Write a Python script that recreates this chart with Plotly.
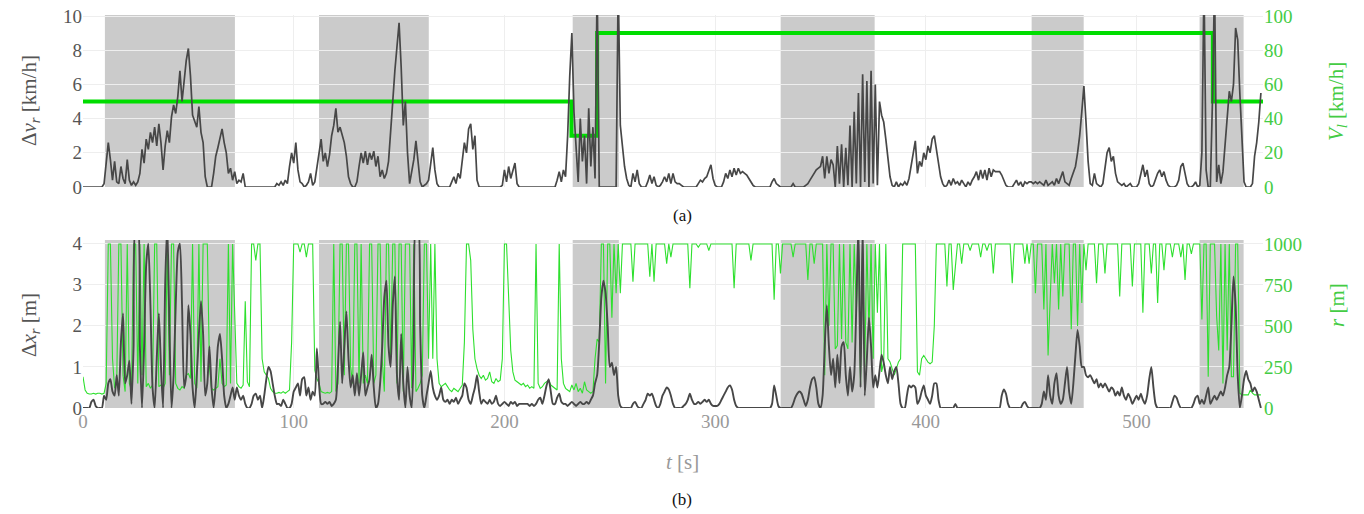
import numpy as np
import plotly.graph_objects as go

# ---------------- data ----------------
t_s = list(range(560))  # sample times [s]

dv_r = [  # Delta v_r [km/h], top panel
    0,0,0,0,0,0,0,0,0,0,
    0.2,1.5,2.6,1.6,0.4,1.5,0.3,0.2,1.2,0.5,
    0.2,1.6,0.4,0.1,0.3,0.1,0.3,0.8,2.2,1.4,
    2.8,2.2,3.2,2.6,3.5,2.4,3.7,2.6,1.0,2.4,
    3.3,2.6,4.1,4.8,4.3,5.3,6.8,5.0,6.2,7.4,
    8.1,6.5,4.2,3.8,3.5,4.7,3.2,2.6,0.6,0,
    0,0,0.8,1.8,2.3,2.9,3.4,2.6,2.0,0.8,
    1.1,0.4,0.9,0.2,0.4,0.3,0.8,0,0,0,
    0,0,0,0,0,0,0,0,0,0,
    0,0,0.2,0.1,0.3,0.1,0.4,0.2,1.2,2.0,
    1.4,2.6,1.0,0.3,0.2,0,0.1,0.3,0.8,0.1,
    0.3,1.2,2.0,2.8,1.5,2.0,1.2,1.9,3.0,3.6,
    4.6,3.2,3.5,3.0,2.6,1.8,0.6,0.2,0,0,
    0.3,1.2,2.0,1.4,2.1,1.3,2.0,1.6,2.1,1.2,
    1.8,0.6,1.0,0.5,0.8,1.5,3.0,5.0,6.8,8.4,
    9.6,7.0,3.6,5.0,2.0,0.2,0.8,1.6,2.7,1.4,
    0.3,0,0.1,0.2,0.4,1.5,2.3,1.0,0.2,0,
    0,0,0,0,0,0.3,0.6,0.2,0.8,0.5,
    1.6,2.6,2.0,3.4,3.7,2.2,3.0,0.4,0,0,
    0,0,0,0,0,0,0,0,0,0.1,
    1.0,0.3,1.2,0.5,0.9,1.4,0.2,0,0,0,
    0,0,0,0,0,0,0,0,0,0,
    0,0,0,0,0,0.4,0.9,0.3,1.0,0.6,
    3.0,6.5,9.0,4.4,2.0,0.3,4.0,1.5,3.0,0.2,
    4.6,1.2,3.5,0.5,12,0,0,0,0,0,
    0,0,0,0,12,3.6,2.4,1.2,0.5,0.1,
    0,0.8,0.3,1.0,0.2,0,0,0,0.3,0.7,
    0.2,0.6,0.1,0,0.1,0.3,0.6,0.3,0.8,0.2,
    0.8,0.3,0.2,0.2,0.1,0,0,0,0,0,
    0,0,0.2,0.4,0.3,0.5,0.6,0.9,1.3,0.5,
    0.1,0,0,0,0.3,0.8,0.5,1.0,0.6,1.1,
    0.7,1.1,0.8,0.9,0.8,0.7,0.5,0.3,0.1,0,
    0,0,0,0,0,0,0,0.3,0.5,0.2,
    0.1,0,0,0,0,0,0,0.2,0,0,
    0,0,0,0.1,0.2,0.4,0.6,0.8,1.0,1.1,
    1.2,1.8,0.5,1.8,0.8,1.6,1.3,0,2.4,0.2,
    2.5,0,2.3,0.1,3.6,0,4.4,0.2,5.5,0,
    6.6,0.3,6.2,0,6.8,0.2,6.0,0.1,5.0,4.2,
    3.8,2.8,1.6,0.6,0.1,0,0.3,0,0.2,0.1,
    0.3,0.1,0.5,1.2,2.0,2.7,0.8,1.5,1.2,2.0,
    1.6,2.4,2.0,2.8,3.0,2.2,1.4,0.6,0.2,0,
    0.1,0.4,0.1,0.5,0.2,0.3,0.1,0.4,0.2,0,
    0.3,0.1,0.4,0.6,0.9,0.4,1.0,0.5,1.0,0.4,
    1.1,0.6,1.0,0.9,0.9,0.9,0.7,0.4,0.1,0,
    0,0,0.2,0.4,0.1,0.3,0,0.3,0.2,0.3,
    0.3,0.2,0.3,0.2,0.3,0.2,0.1,0.4,0.1,0.2,
    0.3,0.1,0.5,0.2,0.6,0.9,0.3,0.2,0.1,0.5,
    0.8,1.2,2.0,3.0,4.4,5.9,3.8,1.5,0.2,0.1,
    0.8,0.2,0.1,0,0.2,1.2,2.0,2.3,1.5,1.8,
    0.8,0.3,0.2,0.1,0.2,0,0.1,0.2,0,0,
    0,0.2,0.8,1.3,0.6,1.0,0.2,0,0.1,0.5,
    0.8,1.0,0.6,0.9,0.4,0.1,0,0,0,0.1,
    0.4,1.2,1.4,0.8,0.2,0,0,0.1,0.3,0,
    0.1,2.0,12,1.0,0,0,5.0,12,0.3,1.3,
    0.2,0.9,2.5,4.0,5.6,5.0,6.0,9.3,8.6,5.5,
    2.8,0.3,0,0,0,0.2,1.8,2.6,3.8,5.5,
]

vl_t = [0, 231.8, 244.0, 536.2, 560]   # V_l change times [s]
vl_v = [50, 30, 90, 50, 50]            # V_l [km/h]

dx_r = [  # Delta x_r [m], bottom panel
    0,0,0,0,0.15,0.2,0.05,0,0,0,
    0.3,0.2,0.6,0.7,0.4,0.3,0.8,0.3,1.6,2.3,
    0.6,0.8,1.15,0.1,1.5,4.5,4.5,1.5,0,1.5,
    3.5,4.0,2.5,0.5,0,1.2,2.3,1.0,0,3.0,
    4.5,2.0,0,0.8,2.5,3.8,4.0,2.5,0.5,0.8,
    2.5,1.8,0.5,0,0.8,1.8,2.6,1.8,0.3,0.6,
    1.5,0.5,0,0.6,1.5,1.8,1.2,0.3,0,0.1,
    0.3,0.5,0.2,0.5,0.3,0.2,0.3,0.1,0,0,
    0.1,0.3,0.35,0.2,0.3,0,0.3,0.7,1.0,0.9,
    0.6,0.3,0.1,0.1,0.05,0.2,0.1,0,0,0.1,
    0.4,0.5,0.6,0.3,0.7,0.75,0.3,0.5,0.2,0.4,
    0.3,1.45,0.6,0.1,0.1,0.15,0.1,0.15,0.05,0.1,
    0.2,1.0,2.1,0.6,1.5,2.35,1.2,0.5,0.8,0.3,
    0.85,0.3,0.8,1.35,0.3,0.5,0.7,1.3,0.5,0,
    0.1,0.6,1.5,2.7,3.1,1.5,1.0,2.5,3.2,0.8,
    0.2,1.8,0.6,0,1.0,0.3,0,1.5,4.5,4.5,
    2.0,0.3,0,0.3,0.6,0.9,0.5,0.3,0.2,0.3,
    0.5,0.2,0.15,0.2,0.1,0.2,0.15,0.25,0.1,0.2,
    0.3,0.6,0.5,0.2,0.1,0.3,0.5,0.8,0.4,0.1,
    0.2,0.15,0.1,0.2,0.1,0.15,0.3,0.1,0.05,0.1,
    0.15,0.1,0.05,0.15,0.1,0.15,0.05,0.1,0.1,0.1,
    0.1,0.1,0.05,0.1,0.05,0.1,0.2,0.25,0.1,0.3,
    0.55,0.7,0.4,0.1,0.1,0.25,0.35,0.15,0.1,0.1,
    0.05,0.1,0.15,0.1,0.05,0.1,0.15,0.1,0.1,0.15,
    0.1,0.2,0.3,0.6,0.8,1.6,2.7,3.1,2.8,2.0,
    1.0,1.1,0.8,1.0,0.3,0.05,0,0,0,0,
    0,0.1,0.15,0.05,0,0,0.1,0.2,0.35,0.3,
    0.35,0.2,0.05,0,0.1,0.3,0.4,0.5,0.45,0.3,
    0.1,0,0,0,0,0.05,0.1,0.2,0.35,0.2,
    0.1,0.1,0.15,0.1,0.15,0.2,0.15,0.2,0.1,0.05,
    0.05,0.05,0.1,0.2,0.3,0.4,0.5,0.55,0.45,0.2,
    0.05,0,0,0,0,0,0,0,0,0,
    0,0,0,0,0,0,0,0.1,0.55,0.3,
    0.05,0,0,0,0,0,0,0.1,0.25,0.35,
    0.4,0.35,0.2,0.05,0.2,0.5,0.7,0.75,0.5,0.1,
    0,0.3,1.5,2.5,1.5,0.8,1.2,0.5,1.3,0.6,
    1.5,1.6,0.8,0.3,1.0,0.4,0.8,2.5,4.5,0.5,
    4.5,0.3,1.2,2.2,1.5,0.5,0.8,0.5,0.9,1.3,
    1.1,0.8,0.6,1.0,0.7,0.9,1.0,0.6,0.1,0,
    0,0.3,0.55,0.5,0.55,0.5,0.1,0.2,0.4,0.55,
    0.3,0.2,0.1,0.3,0.6,0.6,0.2,0,0,0,
    0,0,0,0,0.1,0,0,0,0,0,
    0,0,0,0,0,0,0,0,0,0,
    0,0,0,0,0,0,0.3,0.45,0.35,0.1,
    0,0,0,0,0,0,0.1,0.15,0.05,0,
    0,0,0,0,0,0.1,0.4,0.2,0.8,0.3,
    0.1,0.6,0.85,0.3,0.1,0.2,0.6,1.0,0.4,0.1,
    0.6,1.3,1.9,1.5,1.0,1.0,0.8,0.75,0.8,0.7,
    0.6,0.7,0.5,0.6,0.5,0.6,0.5,0.4,0.5,0.45,
    0.3,0.4,0.3,0.5,0.3,0.2,0.35,0.25,0.1,0.2,
    0.3,0.2,0.35,0.2,0.1,0.3,0.7,1.0,0.5,0.1,
    0,0,0,0,0,0,0,0.15,0.3,0.25,
    0.1,0,0,0,0,0,0,0.1,0.25,0.3,
    0.1,0.2,0.1,0.3,0.5,0.1,0.2,0.3,0.2,0.3,
    0.4,0.3,0.5,0.8,1.0,2.0,3.2,2.5,0.8,0,
    0.3,0.7,0.9,0.7,0.6,0.4,0.5,0.4,0.2,0,
]

r_m = [  # r [m], bottom panel
    190,110,90,85,85,90,85,90,90,85,
    90,150,1000,1000,300,120,150,1000,1000,200,
    100,1000,150,110,1000,1000,150,1000,200,1000,
    130,150,120,140,1000,1000,130,140,120,150,
    1000,200,1000,1000,150,120,110,130,120,200,
    210,180,1000,150,120,1000,160,1000,1000,1000,
    250,120,110,120,130,300,150,130,140,1000,
    150,1000,620,150,130,120,140,650,160,130,
    1000,1000,900,1000,1000,300,220,200,180,120,
    100,90,90,95,90,100,90,100,110,400,
    1000,1000,1000,950,1000,1000,920,1000,1000,1000,
    230,180,150,100,95,90,95,90,100,1000,
    100,150,1000,1000,200,1000,1000,250,150,1000,
    1000,150,1000,150,200,150,1000,1000,150,200,
    1000,1000,300,100,1000,1000,300,1000,1000,150,
    1000,1000,100,1000,1000,1000,120,1000,100,120,
    150,200,1000,1000,300,1000,300,1000,300,150,
    130,140,150,130,110,100,120,110,100,120,
    140,400,1000,1000,900,480,300,240,200,180,
    200,170,180,220,160,150,180,160,170,300,
    1000,1000,700,350,220,170,160,150,140,150,
    130,140,120,130,120,1000,150,120,130,150,
    160,170,140,130,120,110,1000,300,150,120,
    110,100,140,110,150,100,120,90,160,110,
    100,90,100,300,420,400,1000,1000,150,1000,
    1000,550,1000,700,1000,700,1000,1000,1000,1000,
    1000,770,1000,1000,1000,1000,1000,1000,1000,800,
    1000,770,1000,1000,1000,1000,1000,880,1000,920,
    1000,1000,1000,1000,1000,1000,1000,1000,730,1000,
    1000,1000,980,1000,1000,1000,1000,960,1000,1000,
    1000,1000,1000,1000,1000,1000,1000,1000,1000,730,
    1000,1000,1000,1000,1000,1000,1000,900,1000,1000,
    1000,1000,1000,1000,1000,1000,1000,1000,660,1000,
    1000,820,1000,1000,1000,1000,1000,920,1000,1000,
    1000,1000,1000,1000,780,1000,1000,880,1000,1000,
    1000,1000,200,1000,500,1000,1000,360,380,1000,
    420,1000,400,360,1000,400,1000,580,1000,140,
    1000,250,1000,470,1000,300,1000,580,1000,220,
    280,1000,300,280,240,200,240,280,300,1000,
    1000,1000,1000,1000,1000,1000,220,200,300,320,
    300,280,270,280,500,1000,1000,1000,1000,1000,
    740,1000,1000,720,860,1000,1000,880,1000,1000,
    1000,960,1000,1000,1000,1000,920,1000,1000,960,
    1000,1000,820,1000,1000,1000,1000,1000,1000,1000,
    1000,760,1000,1000,1000,1000,1000,880,1000,880,
    1000,1000,700,1000,1000,1000,600,1000,320,700,
    1000,760,1000,600,1000,680,1000,1000,1000,480,
    1000,1000,500,1000,640,1000,840,1000,1000,1000,
    1000,760,1000,1000,1000,820,1000,1000,1000,1000,
    1000,1000,680,1000,1000,1000,1000,1000,740,1000,
    1000,1000,1000,580,1000,1000,1000,820,1000,1000,
    640,1000,1000,840,1000,1000,1000,920,1000,1000,
    1000,920,1000,780,1000,1000,940,1000,1000,1000,
    1000,540,1000,1000,190,1000,1000,1000,560,350,
    1000,150,1000,350,1000,190,190,1000,1000,90,
    80,80,80,80,110,90,80,80,80,80,
]

band_start = [10.4, 112.0, 232.4, 331.1, 450.2, 529.9]  # shaded intervals [s]
band_end = [72.1, 164.1, 254.3, 375.7, 474.9, 550.8]

x_ticks = [0, 100, 200, 300, 400, 500]

# ---------------- styling ----------------
FONT = "Liberation Serif, Times New Roman, serif"
DARK = "#474747"
GREEN_LINE = "#00dd00"
GREEN_R = "#2ee02e"
GREEN_TXT = "#44cc44"
GRID = "#eeeeee"
BAND = "rgb(203,203,203)"

fig = go.Figure()

# top panel: V_l on base axis (y, right side), dv on overlay (y2, left)
fig.add_trace(go.Scatter(x=vl_t, y=vl_v, mode="lines", line=dict(color=GREEN_LINE, width=4, shape="hv"),
                         xaxis="x", yaxis="y", showlegend=False, hoverinfo="skip"))
fig.add_trace(go.Scatter(x=t_s, y=dv_r, mode="lines", line=dict(color=DARK, width=1.7),
                         xaxis="x", yaxis="y2", showlegend=False))
# bottom panel: r on base axis (y3, right side), dx on overlay (y4, left)
fig.add_trace(go.Scatter(x=t_s, y=r_m, mode="lines", line=dict(color=GREEN_R, width=1.1),
                         xaxis="x2", yaxis="y3", showlegend=False))
fig.add_trace(go.Scatter(x=t_s, y=dx_r, mode="lines", line=dict(color=DARK, width=1.9, shape="spline", smoothing=0.6),
                         xaxis="x2", yaxis="y4", showlegend=False))

shapes = []
for s, e in zip(band_start, band_end):
    shapes.append(dict(type="rect", xref="x", yref="y domain", x0=s, x1=e, y0=0, y1=1,
                       fillcolor=BAND, line=dict(width=0), layer="below"))
    shapes.append(dict(type="rect", xref="x2", yref="y3 domain", x0=s, x1=e, y0=0, y1=1,
                       fillcolor=BAND, line=dict(width=0), layer="below"))

tick_font_l = dict(family=FONT, size=19, color="#555555")
tick_font_r = dict(family=FONT, size=19, color=GREEN_TXT)
tick_font_x = dict(family=FONT, size=19, color="#999999")

TOP_DOM = [0.5623, 1.0]
BOT_DOM = [0.0, 0.4275]

common = dict(zeroline=False, ticks="", automargin=False, ticklabeloverflow="allow")

fig.update_layout(
    width=1364, height=514,
    margin=dict(l=83, r=101, t=15, b=106, autoexpand=False),
    paper_bgcolor="white", plot_bgcolor="white",
    font=dict(family=FONT),
    shapes=shapes,
    xaxis=dict(domain=[0, 1], anchor="y", range=[0, 560], tickvals=x_ticks, showticklabels=False,
               showgrid=True, gridcolor=GRID, showline=False, **common),
    xaxis2=dict(domain=[0, 1], anchor="y3", range=[0, 560], tickvals=x_ticks, ticktext=[str(v) for v in x_ticks],
                tickfont=tick_font_x, showgrid=True, gridcolor=GRID, showline=False, **common),
    yaxis=dict(domain=TOP_DOM, anchor="x", side="right", range=[0, 100.6], tickvals=[0, 20, 40, 60, 80, 100],
               tickfont=tick_font_r, showgrid=True, gridcolor=GRID, **common),
    yaxis2=dict(overlaying="y", anchor="x", side="left", range=[0, 10.06], tickvals=[0, 2, 4, 6, 8, 10],
                tickfont=tick_font_l, showgrid=False, **common),
    yaxis3=dict(domain=BOT_DOM, anchor="x2", side="right", range=[0, 1024], tickvals=[0, 250, 500, 750, 1000],
                tickfont=tick_font_r, showgrid=True, gridcolor=GRID, **common),
    yaxis4=dict(overlaying="y3", anchor="x2", side="left", range=[0, 4.09], tickvals=[0, 1, 2, 3, 4],
                tickfont=tick_font_l, showgrid=False, **common),
)

TITLE_SIZE = 21
ann = [
    dict(text="Δ<i>v<sub>r</sub></i> [km/h]", x=-0.0449, y=0.781, textangle=-90,
         font=dict(family=FONT, size=TITLE_SIZE, color="#555555")),
    dict(text="<i>V<sub>l</sub></i> [km/h]", x=1.0627, y=0.781, textangle=-90,
         font=dict(family=FONT, size=TITLE_SIZE, color=GREEN_TXT)),
    dict(text="Δ<i>x<sub>r</sub></i> [m]", x=-0.0449, y=0.211, textangle=-90,
         font=dict(family=FONT, size=TITLE_SIZE, color="#555555")),
    dict(text="<i>r</i> [m]", x=1.0627, y=0.262, textangle=-90,
         font=dict(family=FONT, size=TITLE_SIZE, color=GREEN_TXT)),
    dict(text="<i>t</i> [s]", x=0.508, y=-0.137,
         font=dict(family=FONT, size=TITLE_SIZE, color="#999999")),
    dict(text="(a)", x=0.508, y=0.491, font=dict(family=FONT, size=17, color="#111111")),
    dict(text="(b)", x=0.508, y=-0.234, font=dict(family=FONT, size=17, color="#111111")),
]
for a in ann:
    a.update(xref="paper", yref="paper", showarrow=False, xanchor="center", yanchor="middle")
fig.update_layout(annotations=ann)

# remove the default 8 px page margin so the figure fills the 1364x514 window exactly
fig.write_html("out.html", config={"displayModeBar": False},
               post_script="document.body.style.margin='0px';")
